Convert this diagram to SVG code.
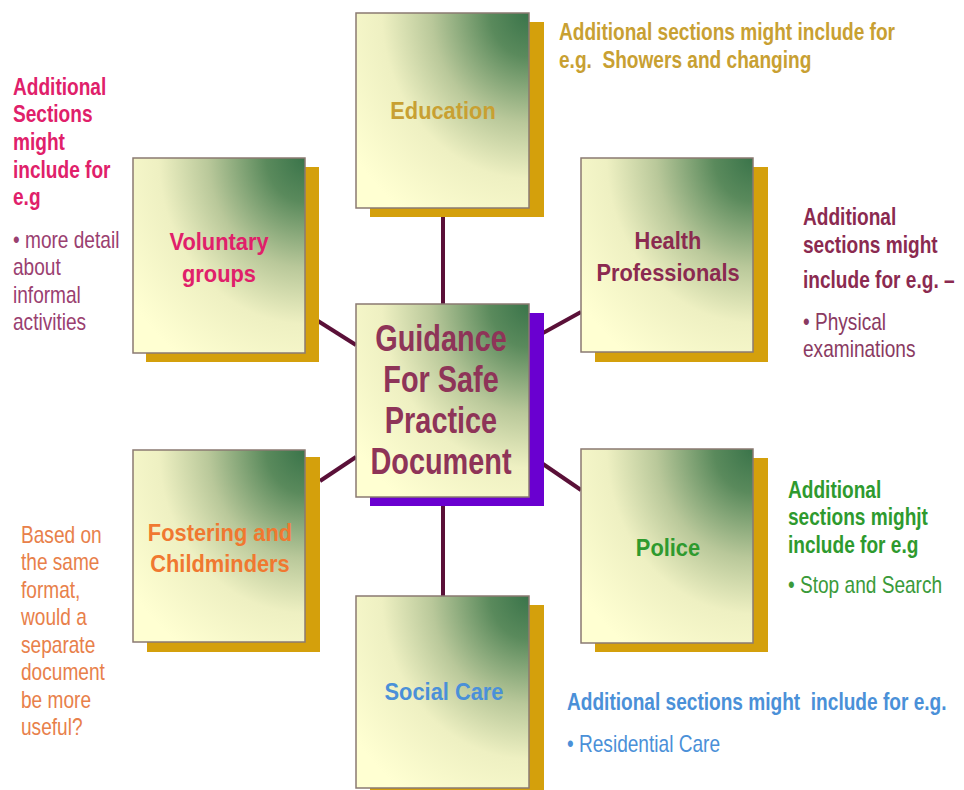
<svg xmlns="http://www.w3.org/2000/svg" width="964" height="790" viewBox="0 0 964 790">
<defs>
<radialGradient id="boxGrad" cx="1" cy="0" r="1.25" fx="1" fy="0">
<stop offset="0" stop-color="#3a744a"/>
<stop offset="0.18" stop-color="#5a8a5c"/>
<stop offset="0.45" stop-color="#b9c89a"/>
<stop offset="0.68" stop-color="#eef0c2"/>
<stop offset="1" stop-color="#ffffd2"/>
</radialGradient>
<style>
.front{fill:url(#boxGrad);stroke:#8a7a72;stroke-width:1.5}
.shadow{fill:#d4a00c}
.shadowC{fill:#6a00d0}
.conn{stroke:#5a1038;stroke-width:4;fill:none}
text{font-family:"Liberation Sans",Arial,sans-serif}
.lbl{font-size:23px;font-weight:bold;text-anchor:middle}
.hd{font-size:23px;font-weight:bold}
.bd{font-size:23px}
.ctr{font-size:37px;font-weight:bold;text-anchor:middle;fill:#8e3458}
</style>
</defs>
<rect width="964" height="790" fill="#ffffff"/>
<g id="connectors">
<line class="conn" x1="443" y1="208" x2="443" y2="304"/>
<line class="conn" x1="443" y1="497" x2="443" y2="596"/>
<line class="conn" x1="318" y1="321" x2="356" y2="345"/>
<line class="conn" x1="543" y1="333" x2="581" y2="312"/>
<line class="conn" x1="320" y1="481" x2="356" y2="457"/>
<line class="conn" x1="543" y1="464" x2="581" y2="490"/>
</g>
<g id="education">
<rect class="shadow" x="370" y="22" width="174" height="195"/>
<rect class="front" x="356" y="13" width="173" height="195"/>
<g transform="translate(443,0) scale(0.95,1)"><text class="lbl" x="0" y="119" fill="#c8a032">Education</text></g>
</g>
<g id="voluntary">
<rect class="shadow" x="146" y="167" width="173" height="195"/>
<rect class="front" x="133" y="158" width="172" height="195"/>
<g transform="translate(219,0) scale(0.95,1)" fill="#e0206a"><text class="lbl" x="0" y="250">Voluntary</text><text class="lbl" x="0" y="282">groups</text></g>
</g>
<g id="health">
<rect class="shadow" x="595" y="167" width="173" height="195"/>
<rect class="front" x="581" y="158" width="172" height="194"/>
<g transform="translate(668,0) scale(0.95,1)" fill="#8b2a50"><text class="lbl" x="0" y="249">Health</text><text class="lbl" x="0" y="281">Professionals</text></g>
</g>
<g id="center">
<rect class="shadowC" x="370" y="313" width="174" height="193"/>
<rect class="front" x="356" y="304" width="173" height="193"/>
<g transform="translate(441,0) scale(0.78,1)"><text class="ctr" x="0" y="351">Guidance</text><text class="ctr" x="0" y="392">For Safe</text><text class="ctr" x="0" y="433">Practice</text><text class="ctr" x="0" y="474">Document</text></g>
</g>
<g id="fostering">
<rect class="shadow" x="147" y="457" width="173" height="195"/>
<rect class="front" x="133" y="450" width="172" height="192"/>
<g transform="translate(220,0) scale(0.95,1)" fill="#f07830"><text class="lbl" x="0" y="541">Fostering and</text><text class="lbl" x="0" y="572">Childminders</text></g>
</g>
<g id="police">
<rect class="shadow" x="595" y="458" width="173" height="194"/>
<rect class="front" x="581" y="449" width="172" height="194"/>
<g transform="translate(668,0) scale(0.95,1)"><text class="lbl" x="0" y="556" fill="#2e9a2e">Police</text></g>
</g>
<g id="socialcare">
<rect class="shadow" x="370" y="605" width="174" height="195"/>
<rect class="front" x="356" y="596" width="173" height="192"/>
<g transform="translate(444,0) scale(0.95,1)"><text class="lbl" x="0" y="700" fill="#4a90d8">Social Care</text></g>
</g>
<g id="note-education" transform="translate(559,0) scale(0.83,1)" fill="#c8a032">
<text class="hd" x="0" y="40">Additional sections might include for</text>
<text class="hd" x="0" y="68" xml:space="preserve">e.g.  Showers and changing</text>
</g>
<g id="note-voluntary" transform="translate(13,0) scale(0.83,1)">
<g fill="#e0206a">
<text class="hd" x="0" y="95">Additional</text>
<text class="hd" x="0" y="122">Sections</text>
<text class="hd" x="0" y="150">might</text>
<text class="hd" x="0" y="178">include for</text>
<text class="hd" x="0" y="205">e.g</text>
</g>
<g fill="#9a4070">
<text class="bd" x="0" y="248">• more detail</text>
<text class="bd" x="0" y="275">about</text>
<text class="bd" x="0" y="303">informal</text>
<text class="bd" x="0" y="330">activities</text>
</g>
</g>
<g id="note-health" transform="translate(803,0) scale(0.83,1)">
<g fill="#8b2a50">
<text class="hd" x="0" y="225">Additional</text>
<text class="hd" x="0" y="253">sections might</text>
<text class="hd" x="0" y="288">include for e.g. –</text>
</g>
<g fill="#8a3a62">
<text class="bd" x="0" y="330">• Physical</text>
<text class="bd" x="0" y="357">examinations</text>
</g>
</g>
<g id="note-fostering" transform="translate(21,0) scale(0.83,1)" fill="#e8804a">
<text class="bd" x="0" y="543">Based on</text>
<text class="bd" x="0" y="570">the same</text>
<text class="bd" x="0" y="598">format,</text>
<text class="bd" x="0" y="625">would a</text>
<text class="bd" x="0" y="653">separate</text>
<text class="bd" x="0" y="680">document</text>
<text class="bd" x="0" y="708">be more</text>
<text class="bd" x="0" y="735">useful?</text>
</g>
<g id="note-police" transform="translate(788,0) scale(0.83,1)">
<g fill="#2e9a2e">
<text class="hd" x="0" y="498">Additional</text>
<text class="hd" x="0" y="525">sections mighjt</text>
<text class="hd" x="0" y="553">include for e.g</text>
</g>
<text class="bd" x="0" y="593" fill="#3a9a3a">• Stop and Search</text>
</g>
<g id="note-social" transform="translate(567,0) scale(0.83,1)" fill="#4a90d8">
<text class="hd" x="0" y="710" xml:space="preserve">Additional sections might  include for e.g.</text>
<text class="bd" x="0" y="752">• Residential Care</text>
</g>
</svg>
